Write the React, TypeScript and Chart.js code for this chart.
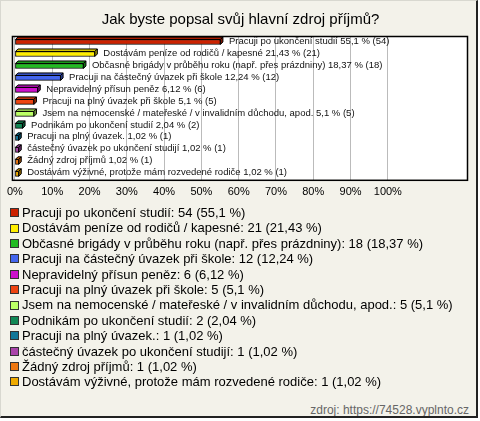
import React, { useEffect, useRef } from "react";
import { Chart, registerables } from "chart.js";

Chart.register(...registerables);

const TITLE = "Jak byste popsal svůj hlavní zdroj příjmů?";
const categories = [
  "Pracuji po ukončení studií",
  "Dostávám peníze od rodičů / kapesné",
  "Občasné brigády v průběhu roku (např. přes prázdniny)",
  "Pracuji na částečný úvazek při škole",
  "Nepravidelný přísun peněz",
  "Pracuji na plný úvazek při škole",
  "Jsem na nemocenské / mateřeské / v invalidním důchodu, apod.",
  "Podnikám po ukončení studií",
  "Pracuji na plný úvazek.",
  "částečný úvazek po ukončení studijí",
  "Žádný zdroj příjmů",
  "Dostávám výživné, protože mám rozvedené rodiče",
];
const counts = [54, 21, 18, 12, 6, 5, 5, 2, 1, 1, 1, 1];
const percents = [55.1, 21.43, 18.37, 12.24, 6.12, 5.1, 5.1, 2.04, 1.02, 1.02, 1.02, 1.02];
const colors = [
  "#CC2200", "#FFEE00", "#22BB22", "#4466EE", "#CC11CC", "#EE4411",
  "#BBFF66", "#118855", "#117799", "#AA44AA", "#EE7711", "#EEAA00",
];
const xTicks = [0, 10, 20, 30, 40, 50, 60, 70, 80, 90, 100];
const SOURCE = "zdroj: https://74528.vyplnto.cz";

const FONT = "'Liberation Sans', Arial, sans-serif";
const fmt = (v: number) => String(v).replace(".", ",");

function shade(hex: string, f: number) {
  const n = parseInt(hex.slice(1), 16);
  const r = Math.round(((n >> 16) & 255) * f);
  const g = Math.round(((n >> 8) & 255) * f);
  const b = Math.round((n & 255) * f);
  return `rgb(${r},${g},${b})`;
}

const boxPlugin = {
  id: "box",
  beforeDraw(chart: any) {
    const { ctx, chartArea } = chart;
    ctx.save();
    ctx.fillStyle = "#ffffff";
    ctx.fillRect(chartArea.left - 2, chartArea.top, chartArea.right - chartArea.left + 2, chartArea.bottom - chartArea.top);
    ctx.restore();
  },
  afterDraw(chart: any) {
    const { ctx, chartArea } = chart;
    ctx.save();
    ctx.strokeStyle = "#000";
    ctx.lineWidth = 1.5;
    ctx.strokeRect(chartArea.left - 2.5, chartArea.top + 0.5, chartArea.right - chartArea.left + 2, chartArea.bottom - chartArea.top);
    ctx.restore();
  },
};

const bar3dPlugin = {
  id: "bar3d",
  afterDatasetsDraw(chart: any) {
    const { ctx } = chart;
    const meta = chart.getDatasetMeta(0);
    const d = 2.5;
    ctx.save();
    meta.data.forEach((el: any, i: number) => {
      const { x, y, base, height } = el.getProps(["x", "y", "base", "height"], true);
      const top = y - height / 2;
      const bottom = y + height / 2;
      ctx.lineWidth = 1;
      ctx.strokeStyle = "#000";
      ctx.beginPath();
      ctx.moveTo(base, top);
      ctx.lineTo(base + d, top - d);
      ctx.lineTo(x + d, top - d);
      ctx.lineTo(x, top);
      ctx.closePath();
      ctx.fillStyle = shade(colors[i], 0.85);
      ctx.fill();
      ctx.stroke();
      ctx.beginPath();
      ctx.moveTo(x, top);
      ctx.lineTo(x + d, top - d);
      ctx.lineTo(x + d, bottom - d);
      ctx.lineTo(x, bottom);
      ctx.closePath();
      ctx.fillStyle = shade(colors[i], 0.6);
      ctx.fill();
      ctx.stroke();
      ctx.fillStyle = "#111";
      ctx.font = `9.5px ${FONT}`;
      ctx.textBaseline = "middle";
      ctx.textAlign = "left";
      ctx.fillText(`${categories[i]} ${fmt(percents[i])} % (${counts[i]})`, x + d + 6, y - 1);
    });
    ctx.restore();
  },
};

function BarChart() {
  const ref = useRef<HTMLCanvasElement | null>(null);
  useEffect(() => {
    if (!ref.current) return;
    const chart = new Chart(ref.current, {
      type: "bar",
      data: {
        labels: categories,
        datasets: [
          {
            data: percents,
            backgroundColor: colors,
            borderColor: "#000",
            borderWidth: 1,
            borderSkipped: false,
            barThickness: 5,
          },
        ],
      },
      options: {
        indexAxis: "y",
        animation: false,
        responsive: false,
        events: [],
        layout: { padding: { left: 12, right: 10, top: 0, bottom: 3 } },
        plugins: {
          legend: { display: false },
          tooltip: { enabled: false },
          title: {
            display: true,
            text: TITLE,
            color: "#000",
            font: { family: FONT, size: 15, weight: "normal" },
            padding: { top: 10, bottom: 7 },
          },
        },
        scales: {
          x: {
            type: "linear",
            min: 0,
            max: 121.5,
            afterBuildTicks(axis: any) {
              axis.ticks = xTicks.map((v) => ({ value: v }));
            },
            ticks: {
              color: "#000",
              font: { family: FONT, size: 11 },
              padding: 6,
              maxRotation: 0,
              autoSkip: false,
              callback: (v: any) => `${v}%`,
            },
            grid: { color: "#bbbbbb", drawTicks: false, lineWidth: 1 },
            border: { display: false },
          },
          y: {
            type: "category",
            display: false,
            offset: true,
          },
        },
      },
      plugins: [boxPlugin, bar3dPlugin],
    } as any);
    return () => chart.destroy();
  }, []);
  return <canvas ref={ref} width={477} height={207} style={{ position: "absolute", left: 0, top: 0 }} />;
}

export default function App() {
  return (
    <div
      style={{
        position: "absolute",
        left: 0,
        top: 0,
        width: 475,
        height: 415,
        background: "#F3F2EA",
        borderLeft: "1px solid #d8d8d0",
        borderTop: "1px solid #d8d8d0",
        borderRight: "2px solid #222",
        borderBottom: "2px solid #222",
        fontFamily: FONT,
        overflow: "hidden",
      }}
    >
      <BarChart />
      <div style={{ position: "absolute", left: 9, top: 204 }}>
        {categories.map((c, i) => (
          <div key={c} style={{ height: 15.4, lineHeight: "15.4px", fontSize: 13, color: "#000", whiteSpace: "nowrap", display: "flex", alignItems: "center" }}>
            <span style={{ display: "inline-block", width: 7, height: 7, background: colors[i], border: "1px solid #333", marginRight: 3 }} />
            <span>{`${c}: ${counts[i]} (${fmt(percents[i])} %)`}</span>
          </div>
        ))}
      </div>
      <div style={{ position: "absolute", right: 7, top: 402, fontSize: 12, color: "#666" }}>{SOURCE}</div>
    </div>
  );
}
